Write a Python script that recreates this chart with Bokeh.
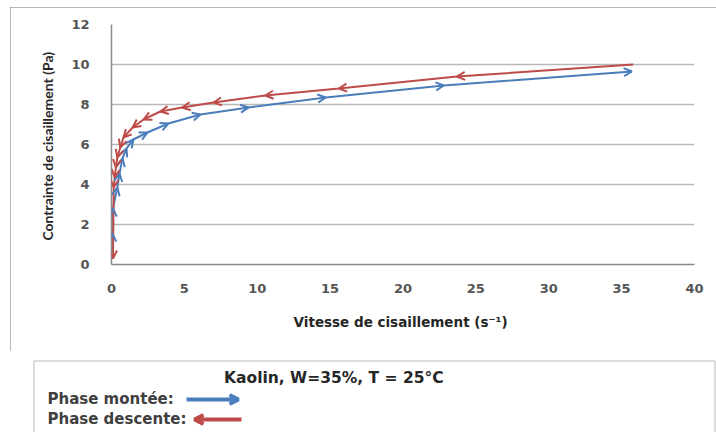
from bokeh.plotting import figure
from bokeh.layouts import column
from bokeh.models import Arrow, OpenHead, ColumnDataSource, FixedTicker
from bokeh.core.properties import value
from bokeh.embed import file_html
from bokeh.resources import INLINE

# --- data ---
montee_x = [0.02, 0.06, 0.1, 0.4, 0.55, 0.75, 1.03, 1.5, 2.47, 3.9, 6.1, 9.4, 14.7, 22.8, 35.7]
montee_y = [0.3, 1.55, 2.8, 3.85, 4.55, 5.3, 5.8, 6.25, 6.6, 7.05, 7.5, 7.85, 8.35, 8.95, 9.65]
descente_x = [35.8, 23.7, 15.6, 10.55, 7.0, 4.85, 3.35, 2.2, 1.45, 0.82, 0.6, 0.4, 0.3, 0.22, 0.15, 0.1]
descente_y = [10.0, 9.4, 8.8, 8.45, 8.1, 7.85, 7.65, 7.25, 6.85, 6.35, 5.85, 5.35, 4.85, 4.35, 3.85, 0.3]
x_ticks = [0, 5, 10, 15, 20, 25, 30, 35, 40]
y_ticks = [0, 2, 4, 6, 8, 10, 12]
x_title = "Vitesse de cisaillement  (s\u207b\u00b9)"
y_title = "Contrainte de cisaillement  (Pa)"
legend_title = "Kaolin, W=35%,  T = 25°C"
legend_labels = ["Phase montée:", "Phase descente:"]

BLUE = "#4a7ebb"
RED = "#be4b48"
FONT = "DejaVu Sans"

# ---------------- chart ----------------
p = figure(width=706, height=344, output_backend="svg", toolbar_location=None,
           x_range=(0, 40), y_range=(0, 12),
           min_border_left=101, min_border_right=22, min_border_top=17, min_border_bottom=87,
           margin=(7, 0, 0, 10),
           styles={"outline": "1px solid #a0a0a0", "outline-offset": "-1px"})
p.frame_align = False
p.outline_line_color = None
p.background_fill_color = "white"
p.border_fill_color = "white"

for ax in (p.xaxis[0], p.yaxis[0]):
    ax.major_tick_line_color = None
    ax.minor_tick_line_color = None
    ax.axis_line_color = "#8a8a8a"
    ax.axis_line_width = 1.5
    ax.major_label_text_font = FONT
    ax.major_label_text_font_size = "13px"
    ax.major_label_text_font_style = "bold"
    ax.major_label_text_color = "#555555"
    ax.axis_label_text_font_style = "bold"
    ax.axis_label_text_color = "#262626"

p.xaxis.axis_label_text_font = FONT
p.xaxis.axis_label_text_font_size = "13.5px"
p.yaxis.axis_label_text_font = "Lato"
p.yaxis.axis_label_text_font_size = "14px"

p.xaxis.ticker = FixedTicker(ticks=x_ticks)
p.yaxis.ticker = FixedTicker(ticks=y_ticks)
p.xaxis.axis_label = x_title
p.yaxis.axis_label = y_title
p.xaxis.major_label_standoff = 13
p.yaxis.major_label_standoff = 16
p.xaxis.axis_label_standoff = 18
p.yaxis.axis_label_standoff = 12

p.xgrid.grid_line_color = None
p.ygrid.grid_line_color = "#b8b8b8"
p.ygrid.grid_line_width = 1.5

p.line(montee_x, montee_y, line_color=BLUE, line_width=2)
p.line(descente_x, descente_y, line_color=RED, line_width=2)

def add_heads(xs, ys, color):
    src = ColumnDataSource(dict(x0=xs[:-1], y0=ys[:-1], x1=xs[1:], y1=ys[1:]))
    p.add_layout(Arrow(source=src, x_start="x0", y_start="y0", x_end="x1", y_end="y1",
                       line_alpha=0,
                       end=OpenHead(size=8, line_color=color, line_width=2)))

add_heads(montee_x, montee_y, BLUE)
add_heads(descente_x, descente_y, RED)

# ---------------- legend box (full-width strip under the chart) ----------------
W, H = 716, 81
lg = figure(width=W, height=H, output_backend="svg", toolbar_location=None,
            x_range=(0, W), y_range=(H, 0), x_axis_type=None, y_axis_type=None,
            min_border=0)
lg.frame_align = False
lg.outline_line_color = None
lg.grid.visible = False
lg.background_fill_color = "white"
lg.border_fill_color = "white"

# box edges (its bottom edge lies below the window)
lg.segment(x0=[33.5, 33.5, 714.5], y0=[H + 5, 9.5, 9.5], x1=[33.5, 714.5, 714.5], y1=[9.5, 9.5, H + 5],
           line_color="#d0d0d0", line_width=1.5)

lg.text(x=[336], y=[26], text=[legend_title], text_font=value(FONT),
        text_font_size="15.5px", text_font_style="bold", text_align="center",
        text_baseline="middle", text_color="#262626")
lg.text(x=[47, 47], y=[47, 67], text=legend_labels, text_font=value(FONT),
        text_font_size="15px", text_font_style="bold", text_align="left",
        text_baseline="middle", text_color="#404040")

lg.add_layout(Arrow(x_start=186, y_start=48, x_end=238, y_end=48,
                    line_color=BLUE, line_width=4,
                    end=OpenHead(size=9, line_color=BLUE, line_width=4)))
lg.add_layout(Arrow(x_start=241, y_start=68, x_end=194, y_end=68,
                    line_color=RED, line_width=4,
                    end=OpenHead(size=9, line_color=RED, line_width=4)))

layout = column(p, lg, spacing=0)
open("out.html", "w").write(file_html(layout, INLINE))
